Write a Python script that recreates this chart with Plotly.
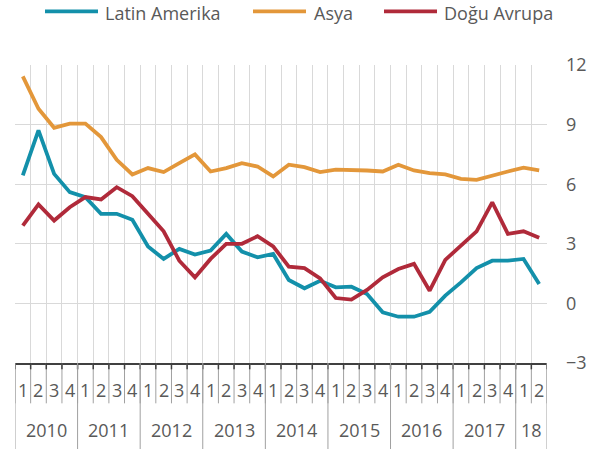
import plotly.graph_objects as go

years = ["2010", "2011", "2012", "2013", "2014", "2015", "2016", "2017", "18"]
quarters_per_year = [4, 4, 4, 4, 4, 4, 4, 4, 2]

latin_amerika = [6.44, 8.71, 6.52, 5.60, 5.35, 4.51, 4.51, 4.21, 2.86, 2.24, 2.74, 2.46,
                 2.66, 3.50, 2.61, 2.32, 2.49, 1.18, 0.76, 1.14, 0.81, 0.84, 0.47, -0.45,
                 -0.67, -0.67, -0.42, 0.39, 1.06, 1.78, 2.15, 2.15, 2.24, 0.98]
asya = [11.43, 9.80, 8.84, 9.05, 9.05, 8.37, 7.23, 6.49, 6.81, 6.61, 7.06, 7.50,
        6.64, 6.81, 7.06, 6.89, 6.39, 6.98, 6.86, 6.61, 6.73, 6.72, 6.69, 6.64,
        6.98, 6.69, 6.56, 6.49, 6.27, 6.22, 6.44, 6.64, 6.83, 6.69]
dogu_avrupa = [3.92, 4.98, 4.17, 4.84, 5.35, 5.23, 5.85, 5.40, 4.51, 3.63, 2.15, 1.31,
               2.24, 3.00, 3.00, 3.38, 2.87, 1.85, 1.78, 1.26, 0.27, 0.19, 0.68, 1.31,
               1.73, 1.99, 0.64, 2.19, 2.91, 3.63, 5.09, 3.50, 3.63, 3.30]

series = [
    ("Latin Amerika", latin_amerika, "#1390AA"),
    ("Asya", asya, "#E3973A"),
    ("Doğu Avrupa", dogu_avrupa, "#B02A3A"),
]

FONT = "Open Sans"
TXT = "#595959"

quarter_labels = []
for n in quarters_per_year:
    quarter_labels += [str(q + 1) for q in range(n)]
x = list(range(len(quarter_labels)))

fig = go.Figure()
for name, vals, col in series:
    fig.add_trace(go.Scatter(x=x, y=vals, mode="lines", name=name,
                             line=dict(color=col, width=3.8), showlegend=False))

W = 532.0
H = 297.7
def px_x(p):
    return (p - 15) / W
def px_y(p):
    return (362.7 - p) / H

shapes = []
annotations = []

# quarter labels and tick separators
for i, q in enumerate(quarter_labels):
    annotations.append(dict(x=i, y=px_y(390), xref="x", yref="paper", text=q,
                            showarrow=False, xanchor="center", yanchor="middle",
                            font=dict(family=FONT, size=18, color=TXT)))
for b in range(len(quarter_labels) + 1):
    shapes.append(dict(type="line", xref="x", yref="paper", x0=b - 0.5, x1=b - 0.5,
                       y0=0, y1=px_y(403), line=dict(color="#A0A0A0", width=1)))
    shapes.append(dict(type="line", xref="x", yref="paper", x0=b - 0.5, x1=b - 0.5,
                       y0=0, y1=px_y(369), line=dict(color="#404040", width=1.5)))

# year labels and dividers
start = 0
bounds = [0]
for yr, n in zip(years, quarters_per_year):
    annotations.append(dict(x=start + (n - 1) / 2, y=px_y(430), xref="x", yref="paper", text=yr,
                            showarrow=False, xanchor="center", yanchor="middle",
                            font=dict(family=FONT, size=18, color=TXT)))
    start += n
    bounds.append(start)
for b in bounds:
    shapes.append(dict(type="line", xref="x", yref="paper", x0=b - 0.5, x1=b - 0.5,
                       y0=0, y1=px_y(449), line=dict(color="#A0A0A0", width=1)))

# custom legend
legend_pos = [(45, 98, 103), (253, 306, 312), (384, 437, 442)]
for (name, vals, col), (l0, l1, t0) in zip(series, legend_pos):
    shapes.append(dict(type="line", xref="paper", yref="paper", x0=px_x(l0), x1=px_x(l1),
                       y0=px_y(11.5), y1=px_y(11.5), line=dict(color=col, width=3.8)))
    annotations.append(dict(x=px_x(t0), y=px_y(13.5), xref="paper", yref="paper", text=name,
                            showarrow=False, xanchor="left", yanchor="middle",
                            font=dict(family=FONT, size=18, color=TXT)))

fig.update_layout(
    width=599, height=449,
    margin=dict(l=15, r=52, t=65, b=86.3, autoexpand=False),
    paper_bgcolor="white", plot_bgcolor="white",
    shapes=shapes, annotations=annotations,
    xaxis=dict(range=[-0.5, len(x) - 0.5], tick0=-0.5, dtick=1, showgrid=True,
               gridcolor="#D9D9D9", gridwidth=1.2, showticklabels=False, zeroline=False,
               showline=True, linecolor="#404040", linewidth=1.5, ticks="",
               automargin=False),
    yaxis=dict(range=[-3, 12], dtick=3, side="right", showgrid=True, gridcolor="#D9D9D9",
               gridwidth=1.2, zeroline=False, showline=False, ticks="",
               ticklabelstandoff=18, automargin=False,
               tickfont=dict(family=FONT, size=18, color=TXT)),
)

fig.write_html("out.html", config={"displayModeBar": False},
               post_script="document.body.style.margin='0';")
